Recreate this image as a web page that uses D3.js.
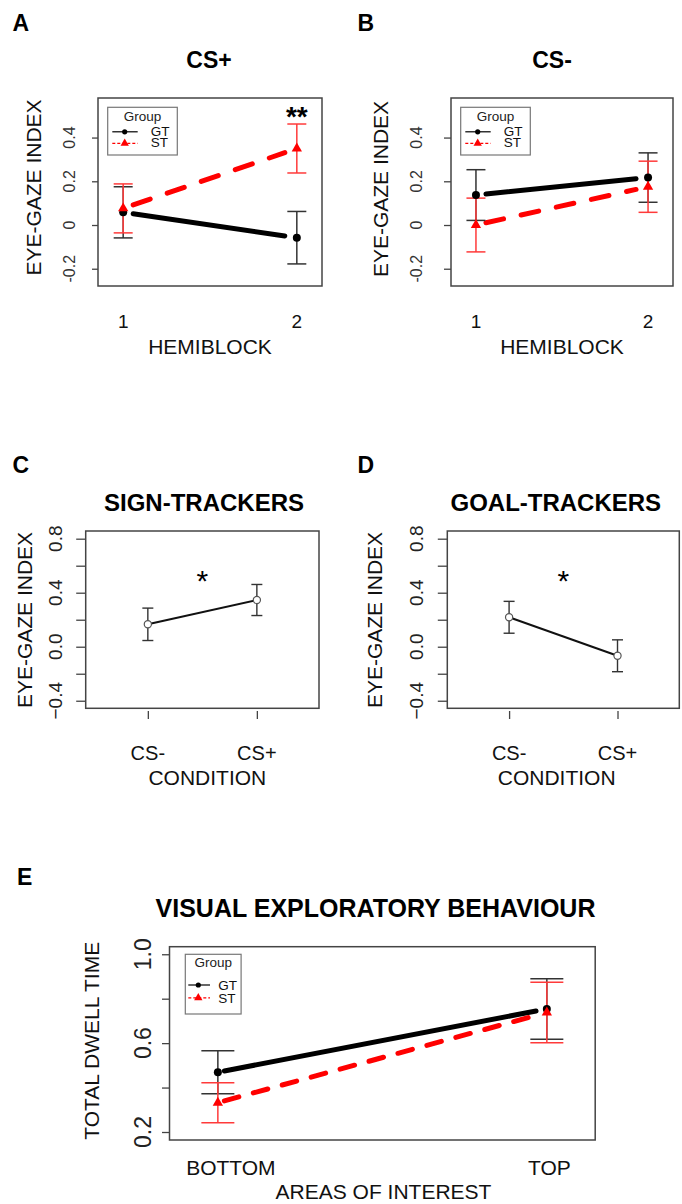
<!DOCTYPE html>
<html>
<head>
<meta charset="utf-8">
<script src="https://cdn.jsdelivr.net/npm/d3@7"></script>
<style>
  html, body { margin: 0; padding: 0; background: #fff; }
  svg { display: block; font-family: "Liberation Sans", Arial, sans-serif; }
</style>
</head>
<body>
<svg id="fig" width="682" height="1204"></svg>
<script>
// ---- Eye-gaze index by hemiblock (panels A, B) ----
const hemiblocks = ["1", "2"];
const groups = ["GT", "ST"];
const csPlusGT = [0.058, -0.058];
const csPlusGTse = [0.117, 0.120];
const csPlusST = [0.076, 0.350];
const csPlusSTse = [0.112, 0.112];
const csPlusSig = ["", "**"];
const csMinusGT = [0.137, 0.217];
const csMinusGTse = [0.116, 0.113];
const csMinusST = [0.000, 0.175];
const csMinusSTse = [0.123, 0.117];
const hemiTicks = [-0.2, 0, 0.2, 0.4];

// ---- Eye-gaze index by condition (panels C, D) ----
const conditions = ["CS-", "CS+"];
const signTrackers = [0.166, 0.346];
const signTrackersSe = [0.120, 0.115];
const goalTrackers = [0.218, -0.067];
const goalTrackersSe = [0.118, 0.118];
const condSig = "*";
const condTicks = [-0.4, -0.2, 0, 0.2, 0.4, 0.6, 0.8];
const condTickLabels = [-0.4, 0, 0.4, 0.8];

// ---- Total dwell time by area of interest (panel E) ----
const areas = ["BOTTOM", "TOP"];
const dwellGT = [0.469, 0.754];
const dwellGTse = [0.097, 0.136];
const dwellST = [0.332, 0.738];
const dwellSTse = [0.090, 0.136];
const dwellTicks = [0.2, 0.4, 0.6, 0.8, 1.0];
const dwellTickLabels = [0.2, 0.6, 1.0];

const svg = d3.select("#fig");

const GT_STYLE = { color: "#000", err: "#333", dash: null, marker: "dot" };
const ST_STYLE = { color: "#ff0000", err: "#ff3a3a", dash: "18,18", marker: "tri" };

function label(g, x, y, str, o = {}) {
  return g.append("text")
    .attr("transform", `translate(${x},${y}) rotate(${o.rotate || 0})`)
    .attr("text-anchor", o.anchor || "middle")
    .attr("font-size", o.size || 16)
    .attr("font-weight", o.weight || "normal")
    .attr("fill", o.fill || "#111")
    .text(str);
}

function frame(g, x0, x1, y0, y1) {
  g.append("rect")
    .attr("x", x0).attr("y", y0)
    .attr("width", x1 - x0).attr("height", y1 - y0)
    .attr("fill", "none").attr("stroke", "#444").attr("stroke-width", 1.5);
}

function yAxis(g, y, x0, ticks, len) {
  const ax = g.append("g").attr("transform", `translate(${x0},0)`)
    .call(d3.axisLeft(y).tickValues(ticks).tickSize(len).tickFormat(() => ""));
  ax.select(".domain").remove();
  ax.selectAll(".tick line").attr("stroke", "#444").attr("stroke-width", 1.3);
}

function drawMarker(g, kind, cx, cy, s, color) {
  if (kind === "dot") {
    g.append("circle").attr("cx", cx).attr("cy", cy).attr("r", s).attr("fill", color);
  } else if (kind === "tri") {
    g.append("path")
      .attr("d", d3.symbol(d3.symbolTriangle, s * s * 2.6)())
      .attr("transform", `translate(${cx},${cy})`)
      .attr("fill", color);
  } else if (kind === "ring") {
    g.append("circle").attr("cx", cx).attr("cy", cy).attr("r", s)
      .attr("fill", "#fff").attr("stroke", "#555").attr("stroke-width", 1.2);
  }
}

// Mean line, error bars and markers for one group; layers = {lines, bars, points}
function series(layers, x, y, cats, means, se, st) {
  const px = cats.map(c => x(c));
  const py = means.map(m => y(m));
  const dx = px[1] - px[0];
  const t0 = st.trim[0] / dx, t1 = 1 - st.trim[1] / dx;
  const lerp = (a, b, t) => a + (b - a) * t;
  const ln = layers.lines.append("line")
    .attr("x1", lerp(px[0], px[1], t0)).attr("y1", lerp(py[0], py[1], t0))
    .attr("x2", lerp(px[0], px[1], t1)).attr("y2", lerp(py[0], py[1], t1))
    .attr("stroke", st.color).attr("stroke-width", st.width)
    .attr("stroke-linecap", st.cap || "round");
  if (st.dash) ln.attr("stroke-dasharray", st.dash);

  cats.forEach((c, i) => {
    const lo = y(means[i] - se[i]), hi = y(means[i] + se[i]);
    const b = layers.bars;
    b.append("line").attr("x1", px[i]).attr("x2", px[i]).attr("y1", lo).attr("y2", hi)
      .attr("stroke", st.err).attr("stroke-width", st.errWidth);
    [lo, hi].forEach(v => {
      b.append("line").attr("x1", px[i] - st.capW).attr("x2", px[i] + st.capW)
        .attr("y1", v).attr("y2", v)
        .attr("stroke", st.err).attr("stroke-width", st.errWidth);
    });
    drawMarker(layers.points, st.marker, px[i], py[i], st.size, st.color);
  });
}

function layerSet(g) {
  return { lines: g.append("g"), bars: g.append("g"), points: g.append("g") };
}

// Legend box listing the GT / ST groups
function legend(g, bx, by, bw, bh, o) {
  g.append("rect").attr("x", bx).attr("y", by).attr("width", bw).attr("height", bh)
    .attr("fill", "#fff").attr("stroke", "#777").attr("stroke-width", 1.2);
  label(g, bx + bw / 2, by + o.titleBase, "Group", { size: o.size, fill: "#222" });
  const styles = [GT_STYLE, ST_STYLE];
  groups.forEach((grp, i) => {
    const ly = by + o.rowY[i];
    const st = styles[i];
    const l = g.append("line")
      .attr("x1", bx + o.lineX[0]).attr("x2", bx + o.lineX[1])
      .attr("y1", ly).attr("y2", ly)
      .attr("stroke", st.color).attr("stroke-width", 1.2);
    if (st.dash) l.attr("stroke-dasharray", "3,2");
    drawMarker(g, st.marker, bx + o.markX, ly, st.marker === "dot" ? 2.6 : 3.4, st.color);
    label(g, bx + o.textX, ly + o.textDy, grp, { size: o.size, anchor: "start", fill: "#111" });
  });
}

// ---------------- Panels A and B ----------------
const hemiY = d3.scaleLinear().domain([-0.279, 0.581]).range([286, 98]);

function hemiPanel(o) {
  const g = svg.append("g");
  const x = d3.scalePoint().domain(hemiblocks).range([o.x0, o.x1]).padding(0.145);
  const y = hemiY;

  label(g, o.letterX, 30.7, o.letter, { size: 23, weight: "bold", anchor: "start", fill: "#000" });
  label(g, o.titleX, 68, o.title, { size: 23, weight: "bold", fill: "#000" });

  yAxis(g, y, o.x0, hemiTicks, o.tickLen);
  hemiTicks.forEach(v => label(g, o.tickLabelX, y(v), String(v), { size: 16, rotate: -90, fill: "#333" }));
  label(g, o.yTitleX, o.yTitleY, "EYE-GAZE INDEX", { size: 21, rotate: -90 });

  hemiblocks.forEach(c => label(g, x(c), 328, c, { size: 19 }));
  label(g, (o.x0 + o.x1) / 2, 354, "HEMIBLOCK", { size: 21 });

  const layers = layerSet(g);
  series(layers, x, y, hemiblocks, o.gt, o.gtSe,
    Object.assign({}, GT_STYLE, { width: 5, trim: [10, 12], errWidth: 1.5, capW: 9.5, size: 4 }));
  series(layers, x, y, hemiblocks, o.st, o.stSe,
    Object.assign({}, ST_STYLE, { width: 5, trim: [10, 12], errWidth: 1.5, capW: 9.5, size: 4.2 }));

  legend(g, o.x0 + 9.7, 107.3, 69.6, 47.7,
    { size: 13.5, titleBase: 13.5, rowY: [24.5, 36], lineX: [4.6, 30], markX: 17, textX: 43, textDy: 4 });

  if (o.sig) {
    o.sig.forEach((s, i) => {
      if (s) label(g, x(hemiblocks[i]), y(0.525) + 16, s, { size: 28, weight: "bold", fill: "#000" });
    });
  }
  frame(g, o.x0, o.x1, 98, 286);
}

hemiPanel({
  letter: "A", letterX: 12.5, title: "CS+", titleX: 209,
  x0: 98, x1: 322, tickLen: 6, tickLabelX: 75, yTitleX: 41, yTitleY: 187.5,
  gt: csPlusGT, gtSe: csPlusGTse, st: csPlusST, stSe: csPlusSTse, sig: csPlusSig
});
hemiPanel({
  letter: "B", letterX: 357.5, title: "CS-", titleX: 552,
  x0: 451, x1: 673, tickLen: 7, tickLabelX: 421.5, yTitleX: 388.3, yTitleY: 189,
  gt: csMinusGT, gtSe: csMinusGTse, st: csMinusST, stSe: csMinusSTse, sig: null
});

// ---------------- Panels C and D ----------------
const condY = d3.scaleLinear().domain([-0.456, 0.857]).range([708.3, 531]);

function condPanel(o) {
  const g = svg.append("g");
  const x = d3.scalePoint().domain(conditions).range([o.x0, o.x1]).padding(0.57);
  const y = condY;

  label(g, o.letterX, 473.3, o.letter, { size: 23, weight: "bold", anchor: "start", fill: "#000" });
  label(g, o.titleX, 510.7, o.title, { size: 24, weight: "bold", fill: "#000" });

  yAxis(g, y, o.x0, condTicks, 9.5);
  condTickLabels.forEach(v => label(g, o.tickLabelX, y(v), d3.format(".1f")(v),
    { size: 19, rotate: -90, fill: "#222" }));
  label(g, o.yTitleX, 620, "EYE-GAZE INDEX", { size: 21, rotate: -90 });

  const xa = g.append("g").attr("transform", "translate(0,711)")
    .call(d3.axisBottom(x).tickSize(8).tickFormat(() => ""));
  xa.select(".domain").remove();
  xa.selectAll(".tick line").attr("stroke", "#444").attr("stroke-width", 1.3);
  conditions.forEach(c => label(g, x(c), 760, c, { size: 20 }));
  label(g, o.condX, 785, "CONDITION", { size: 21 });

  const layers = layerSet(g);
  series(layers, x, y, conditions, o.means, o.se,
    { color: "#111", err: "#333", width: 2, cap: "butt", trim: [0, 0], errWidth: 1.4, capW: 5.5,
      marker: "ring", size: 3.6 });

  const mid = (x(conditions[0]) + x(conditions[1])) / 2;
  label(g, mid, y(0.536) + 17, condSig, { size: 30, fill: "#000" });

  frame(g, o.x0, o.x1, 531, 708.3);
}

condPanel({
  letter: "C", letterX: 12.5, title: "SIGN-TRACKERS", titleX: 204,
  x0: 85.7, x1: 319, tickLabelX: 61.7, yTitleX: 31.7, condX: 207.3,
  means: signTrackers, se: signTrackersSe
});
condPanel({
  letter: "D", letterX: 357.5, title: "GOAL-TRACKERS", titleX: 555.8,
  x0: 447.3, x1: 679.3, tickLabelX: 423, yTitleX: 381.7, condX: 556.7,
  means: goalTrackers, se: goalTrackersSe
});

// ---------------- Panel E ----------------
(function () {
  const g = svg.append("g");
  const x0 = 169.5, x1 = 595.2, y0 = 946.7, y1 = 1140;
  const x = d3.scalePoint().domain(areas).range([x0, x1]).padding(0.147);
  const y = d3.scaleLinear().domain([0.164, 1.034]).range([y1, y0]);

  label(g, 17, 885, "E", { size: 23, weight: "bold", anchor: "start", fill: "#000" });
  label(g, 375.5, 916.7, "VISUAL EXPLORATORY BEHAVIOUR", { size: 25, weight: "bold", fill: "#000" });

  yAxis(g, y, x0, dwellTicks, 7.5);
  dwellTickLabels.forEach(v => label(g, 151, y(v), d3.format(".1f")(v),
    { size: 23, rotate: -90, fill: "#222" }));
  label(g, 98.7, 1040.8, "TOTAL DWELL TIME", { size: 21, rotate: -90 });

  const nudge = [13, 2.6];
  areas.forEach((c, i) => label(g, x(c) + nudge[i], 1175, c, { size: 21 }));
  label(g, 383.5, 1199, "AREAS OF INTEREST", { size: 21 });

  const layers = layerSet(g);
  series(layers, x, y, areas, dwellGT, dwellGTse,
    Object.assign({}, GT_STYLE, { width: 5, trim: [6.5, 10.8], errWidth: 1.5, capW: 16.5, size: 4 }));
  series(layers, x, y, areas, dwellST, dwellSTse,
    Object.assign({}, ST_STYLE, { dash: "15,15", width: 5, trim: [6.5, 10.8], errWidth: 1.5, capW: 16.5, size: 4.2 }));

  legend(g, 185.3, 954.3, 55.8, 59.7,
    { size: 13.5, titleBase: 13, rowY: [30.7, 43.5], lineX: [3, 24.7], markX: 13, textX: 33, textDy: 5 });

  frame(g, x0, x1, y0, y1);
})();
</script>
</body>
</html>
